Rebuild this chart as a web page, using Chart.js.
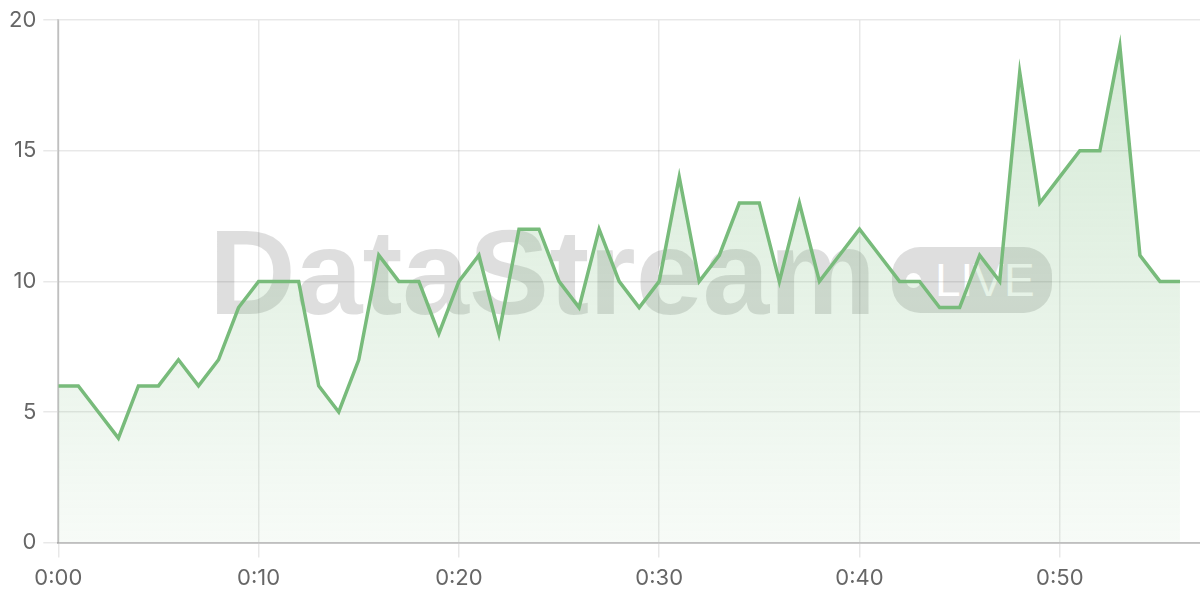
<!DOCTYPE html>
<html>
<head>
<meta charset="utf-8">
<script src="https://cdn.jsdelivr.net/npm/chart.js@4.4.1/dist/chart.umd.min.js"></script>
<style>
  html, body { margin: 0; padding: 0; background: #fff; }
  #wrap { position: relative; width: 1200px; height: 600px; }
  #chart { position: absolute; left: 0; top: 0; z-index: 1; }
  .mark { position: absolute; z-index: 0; font-family: "Liberation Sans", Arial, sans-serif; }
  #brand { left: 209px; top: 212px; font-size: 120px; font-weight: bold; color: rgba(0,0,0,0.13); letter-spacing: 0px; line-height: 1; white-space: nowrap; }
  #live { left: 892px; top: 247px; width: 160px; height: 66px; border-radius: 28px; background: rgba(0,0,0,0.13); }
  #live .dot { position: absolute; left: 14px; top: 26px; width: 15px; height: 15px; border-radius: 50%; background: #fff; }
  #live .txt { position: absolute; left: 43px; top: 6px; font-size: 46px; line-height: 1.2; color: #fff; }
</style>
</head>
<body>
<div id="wrap">
  <div id="brand" class="mark">DataStream</div>
  <div id="live" class="mark"><span class="dot"></span><span class="txt">LIVE</span></div>
  <canvas id="chart" width="1200" height="600"></canvas>
</div>
<script>
// minutes since start
const minutes = [0, 1, 2, 3, 4, 5, 6, 7, 8, 9, 10, 11, 12, 13, 14, 15, 16, 17, 18, 19,
  20, 21, 22, 23, 24, 25, 26, 27, 28, 29, 30, 31, 32, 33, 34, 35, 36, 37, 38, 39,
  40, 41, 42, 43, 44, 45, 46, 47, 48, 49, 50, 51, 52, 53, 54, 55, 56];
const values = [6, 6, 5, 4, 6, 6, 7, 6, 7, 9, 10, 10, 10, 6, 5, 7, 11, 10, 10, 8,
  10, 11, 8, 12, 12, 10, 9, 12, 10, 9, 10, 14, 10, 11, 13, 13, 10, 13, 10, 11,
  12, 11, 10, 10, 9, 9, 11, 10, 18, 13, 14, 15, 15, 19, 11, 10, 10];
const xTicks = [0, 10, 20, 30, 40, 50];
const yTicks = [0, 5, 10, 15, 20];

const lineColor = '#78bb7b';

function fmt(m) {
  return Math.floor(m / 60) + ':' + String(m % 60).padStart(2, '0');
}

const ctx = document.getElementById('chart').getContext('2d');

new Chart(ctx, {
  type: 'line',
  data: {
    datasets: [{
      data: minutes.map((m, i) => ({ x: m, y: values[i] })),
      borderColor: lineColor,
      borderWidth: 3.5,
      tension: 0,
      pointRadius: 0,
      fill: 'origin',
      backgroundColor: (c) => {
        const area = c.chart.chartArea;
        if (!area) return 'rgba(120,187,123,0.15)';
        const g = c.chart.ctx.createLinearGradient(0, area.top, 0, area.bottom);
        g.addColorStop(0, 'rgba(120,187,123,0.32)');
        g.addColorStop(1, 'rgba(120,187,123,0.06)');
        return g;
      }
    }]
  },
  options: {
    responsive: false,
    animation: false,
    layout: { padding: { top: 9, left: 2, right: 0, bottom: 0 } },
    plugins: { legend: { display: false }, tooltip: { enabled: false } },
    scales: {
      x: {
        type: 'linear',
        min: 0,
        max: 57,
        afterBuildTicks: (axis) => { axis.ticks = xTicks.map(v => ({ value: v })); },
        ticks: {
          callback: (v) => fmt(v),
          color: '#666',
          font: { family: 'Inter, "Noto Sans", sans-serif', size: 22 },
          padding: 8,
          maxRotation: 0
        },
        grid: { color: 'rgba(0,0,0,0.09)', tickLength: 15, lineWidth: 1.5 },
        border: { color: 'rgba(0,0,0,0.18)', width: 2 }
      },
      y: {
        min: 0,
        max: 20,
        afterBuildTicks: (axis) => { axis.ticks = yTicks.map(v => ({ value: v })); },
        ticks: {
          color: '#666',
          font: { family: 'Inter, "Noto Sans", sans-serif', size: 22 },
          padding: 7
        },
        grid: { color: 'rgba(0,0,0,0.09)', tickLength: 15, lineWidth: 1.5 },
        border: { color: 'rgba(0,0,0,0.18)', width: 2 }
      }
    }
  }
});
</script>
</body>
</html>
